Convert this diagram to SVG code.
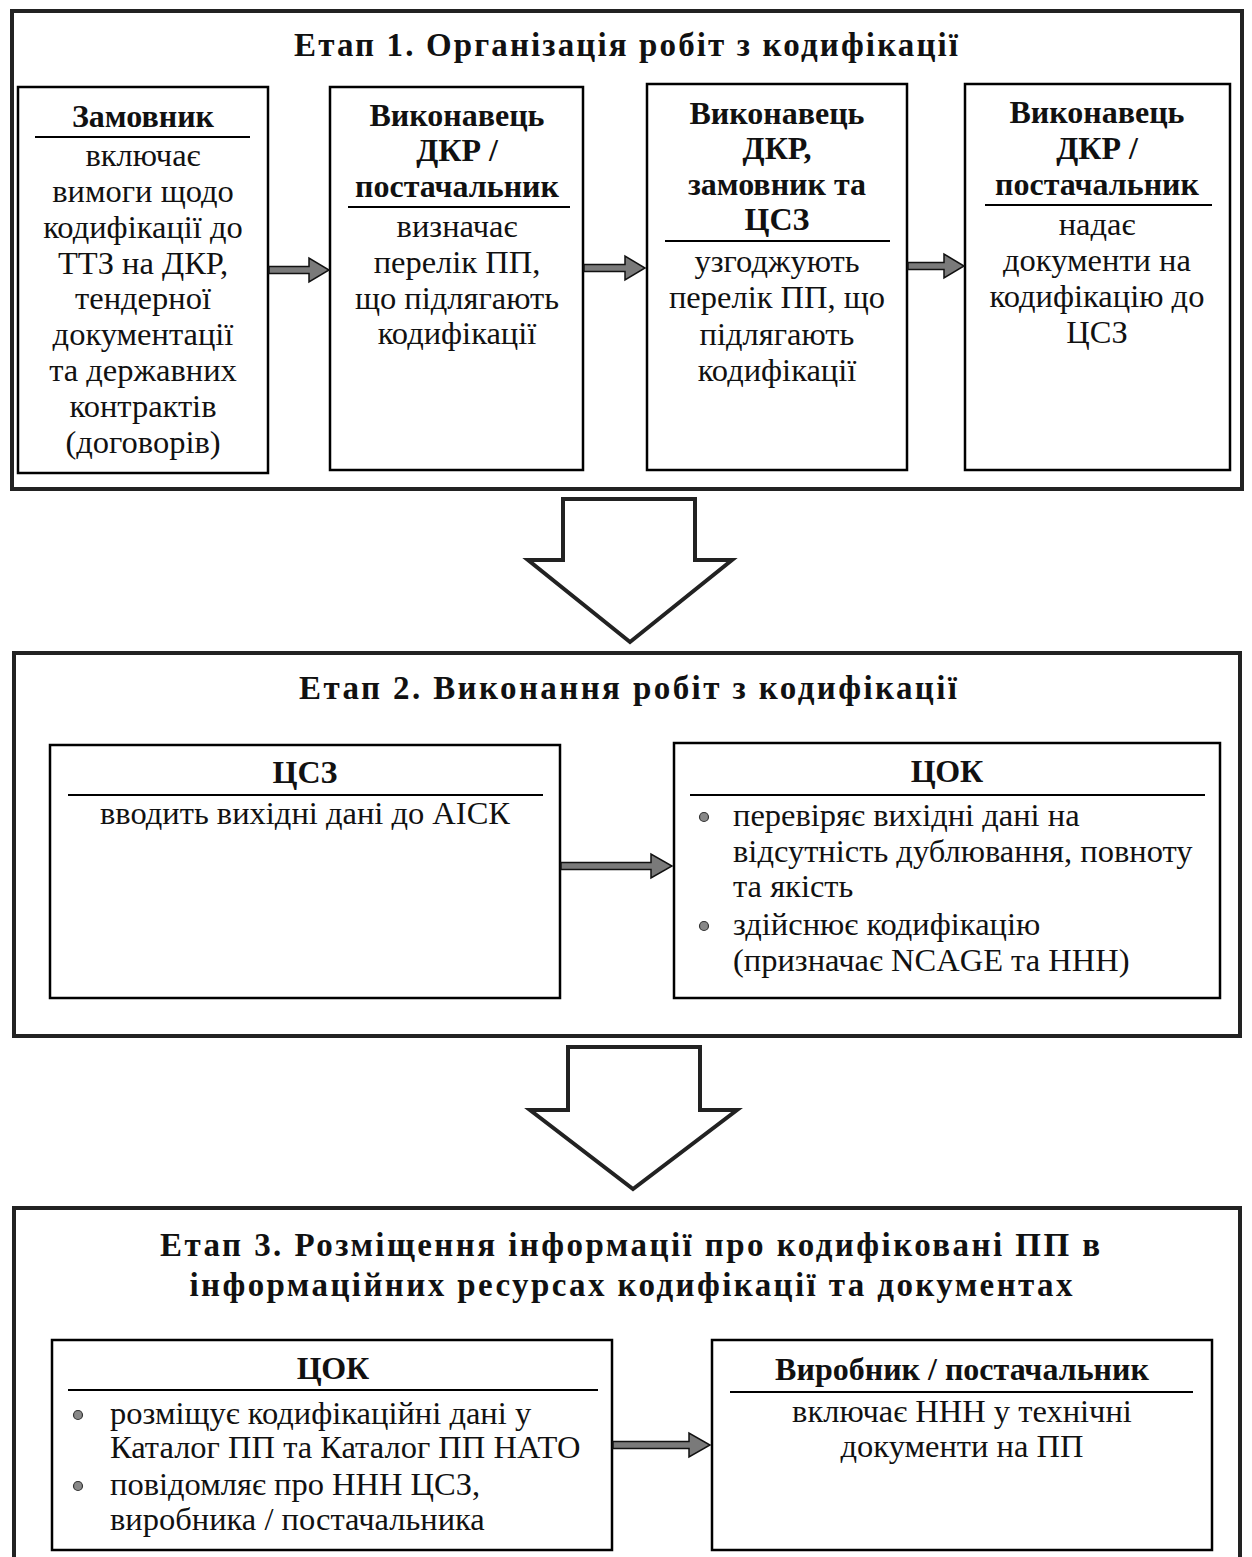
<svg xmlns="http://www.w3.org/2000/svg" width="1252" height="1557" viewBox="0 0 1252 1557">
<style>
text{font-family:"Liberation Serif","DejaVu Serif",serif;fill:#111}
.t{font-size:33px;font-weight:bold;text-anchor:middle}
.h{font-size:32px;font-weight:bold;text-anchor:middle}
.b{font-size:32.5px;text-anchor:middle}
.l{font-size:32.5px}
.frame{fill:none;stroke:#222;stroke-width:4}
.box{fill:#fff;stroke:#000;stroke-width:2.5}
.ul{stroke:#000;stroke-width:2}
.arr{fill:#7a7a7a;stroke:#111;stroke-width:1.5;stroke-linejoin:miter}
.big{fill:#fff;stroke:#222;stroke-width:4;stroke-linejoin:miter}
.dot{fill:#888;stroke:#333;stroke-width:1.2}
</style>
<rect width="1252" height="1557" fill="#fff"/>

<g id="stage1">
<rect class="frame" x="12" y="11" width="1230" height="478"/>
<text class="t" x="626" y="56" textLength="664" lengthAdjust="spacing">Етап 1. Організація робіт з кодифікації</text>
</g>

<g id="s1-zamovnyk">
<rect class="box" x="18" y="87" width="250" height="386"/>
<text class="h" x="143" y="127">Замовник</text>
<line class="ul" x1="35" y1="137" x2="250" y2="137"/>
<text class="b" x="143" y="166">включає</text>
<text class="b" x="143" y="202">вимоги щодо</text>
<text class="b" x="143" y="238">кодифікації до</text>
<text class="b" x="143" y="274">ТТЗ на ДКР,</text>
<text class="b" x="143" y="309">тендерної</text>
<text class="b" x="143" y="345">документації</text>
<text class="b" x="143" y="381">та державних</text>
<text class="b" x="143" y="417">контрактів</text>
<text class="b" x="143" y="453">(договорів)</text>
</g>

<g id="s1-vykonavets1">
<rect class="box" x="330" y="87" width="253" height="383"/>
<text class="h" x="457" y="126">Виконавець</text>
<text class="h" x="457" y="161">ДКР /</text>
<text class="h" x="457" y="197">постачальник</text>
<line class="ul" x1="348" y1="207" x2="570" y2="207"/>
<text class="b" x="457" y="237">визначає</text>
<text class="b" x="457" y="273">перелік ПП,</text>
<text class="b" x="457" y="309">що підлягають</text>
<text class="b" x="457" y="344">кодифікації</text>
</g>

<g id="s1-vykonavets2">
<rect class="box" x="647" y="84" width="260" height="386"/>
<text class="h" x="777" y="124">Виконавець</text>
<text class="h" x="777" y="159">ДКР,</text>
<text class="h" x="777" y="195">замовник та</text>
<text class="h" x="777" y="230">ЦСЗ</text>
<line class="ul" x1="665" y1="241" x2="890" y2="241"/>
<text class="b" x="777" y="272">узгоджують</text>
<text class="b" x="777" y="308">перелік ПП, що</text>
<text class="b" x="777" y="345">підлягають</text>
<text class="b" x="777" y="381">кодифікації</text>
</g>

<g id="s1-vykonavets3">
<rect class="box" x="965" y="84" width="265" height="386"/>
<text class="h" x="1097" y="123">Виконавець</text>
<text class="h" x="1097" y="159">ДКР /</text>
<text class="h" x="1097" y="195">постачальник</text>
<line class="ul" x1="985" y1="205" x2="1212" y2="205"/>
<text class="b" x="1097" y="235">надає</text>
<text class="b" x="1097" y="271">документи на</text>
<text class="b" x="1097" y="307">кодифікацію до</text>
<text class="b" x="1097" y="343">ЦСЗ</text>
</g>

<g id="stage2">
<rect class="frame" x="14" y="653" width="1226" height="383"/>
<text class="t" x="628" y="699" textLength="658" lengthAdjust="spacing">Етап 2. Виконання робіт з кодифікації</text>
</g>

<g id="s2-tssz">
<rect class="box" x="50" y="745" width="510" height="253"/>
<text class="h" x="305" y="783">ЦСЗ</text>
<line class="ul" x1="68" y1="795" x2="543" y2="795"/>
<text class="b" x="305" y="824">вводить вихідні дані до АІСК</text>
</g>

<g id="s2-tsok">
<rect class="box" x="674" y="743" width="546" height="255"/>
<text class="h" x="947" y="782">ЦОК</text>
<line class="ul" x1="690" y1="795" x2="1205" y2="795"/>
<circle class="dot" cx="704" cy="817" r="4.5"/>
<text class="l" x="733" y="826">перевіряє вихідні дані на</text>
<text class="l" x="733" y="862">відсутність дублювання, повноту</text>
<text class="l" x="733" y="897">та якість</text>
<circle class="dot" cx="704" cy="926" r="4.5"/>
<text class="l" x="733" y="935">здійснює кодифікацію</text>
<text class="l" x="733" y="971">(призначає NCAGE та ННН)</text>
</g>

<g id="stage3">
<rect class="frame" x="14" y="1208" width="1226" height="370"/>
<text class="t" x="630" y="1256" textLength="940" lengthAdjust="spacing">Етап 3. Розміщення інформації про кодифіковані ПП в</text>
<text class="t" x="631" y="1296" textLength="883" lengthAdjust="spacing">інформаційних ресурсах кодифікації та документах</text>
</g>

<g id="s3-tsok">
<rect class="box" x="52" y="1340" width="560" height="210"/>
<text class="h" x="333" y="1379">ЦОК</text>
<line class="ul" x1="68" y1="1390" x2="598" y2="1390"/>
<circle class="dot" cx="78" cy="1415" r="4.5"/>
<text class="l" x="110" y="1424">розміщує кодифікаційні дані у</text>
<text class="l" x="110" y="1458">Каталог ПП та Каталог ПП НАТО</text>
<circle class="dot" cx="78" cy="1486" r="4.5"/>
<text class="l" x="110" y="1495">повідомляє про ННН ЦСЗ,</text>
<text class="l" x="110" y="1530">виробника / постачальника</text>
</g>

<g id="s3-vyrobnyk">
<rect class="box" x="712" y="1340" width="500" height="210"/>
<text class="h" x="962" y="1380">Виробник / постачальник</text>
<line class="ul" x1="730" y1="1392" x2="1193" y2="1392"/>
<text class="b" x="962" y="1422">включає ННН у технічні</text>
<text class="b" x="962" y="1457">документи на ПП</text>
</g>

<g id="connectors">
<path class="arr" d="M269,266.5 H309 V258 L329,270 L309,282 V273.5 H269 Z"/>
<path class="arr" d="M584,264.5 H625 V256 L645,268 L625,280 V271.5 H584 Z"/>
<path class="arr" d="M908,262.5 H944 V254 L964,266 L944,278 V269.5 H908 Z"/>
<path class="arr" d="M561,862.5 H651 V854 L672,866 L651,878 V869.5 H561 Z"/>
<path class="arr" d="M613,1441.5 H689 V1433 L710,1445 L689,1457 V1448.5 H613 Z"/>
<path class="big" d="M563,499 H695 V560 H732 L630,642 L528,560 H563 Z"/>
<path class="big" d="M568,1047 H700 V1110 H737 L633,1189 L530,1110 H568 Z"/>
</g>
</svg>
